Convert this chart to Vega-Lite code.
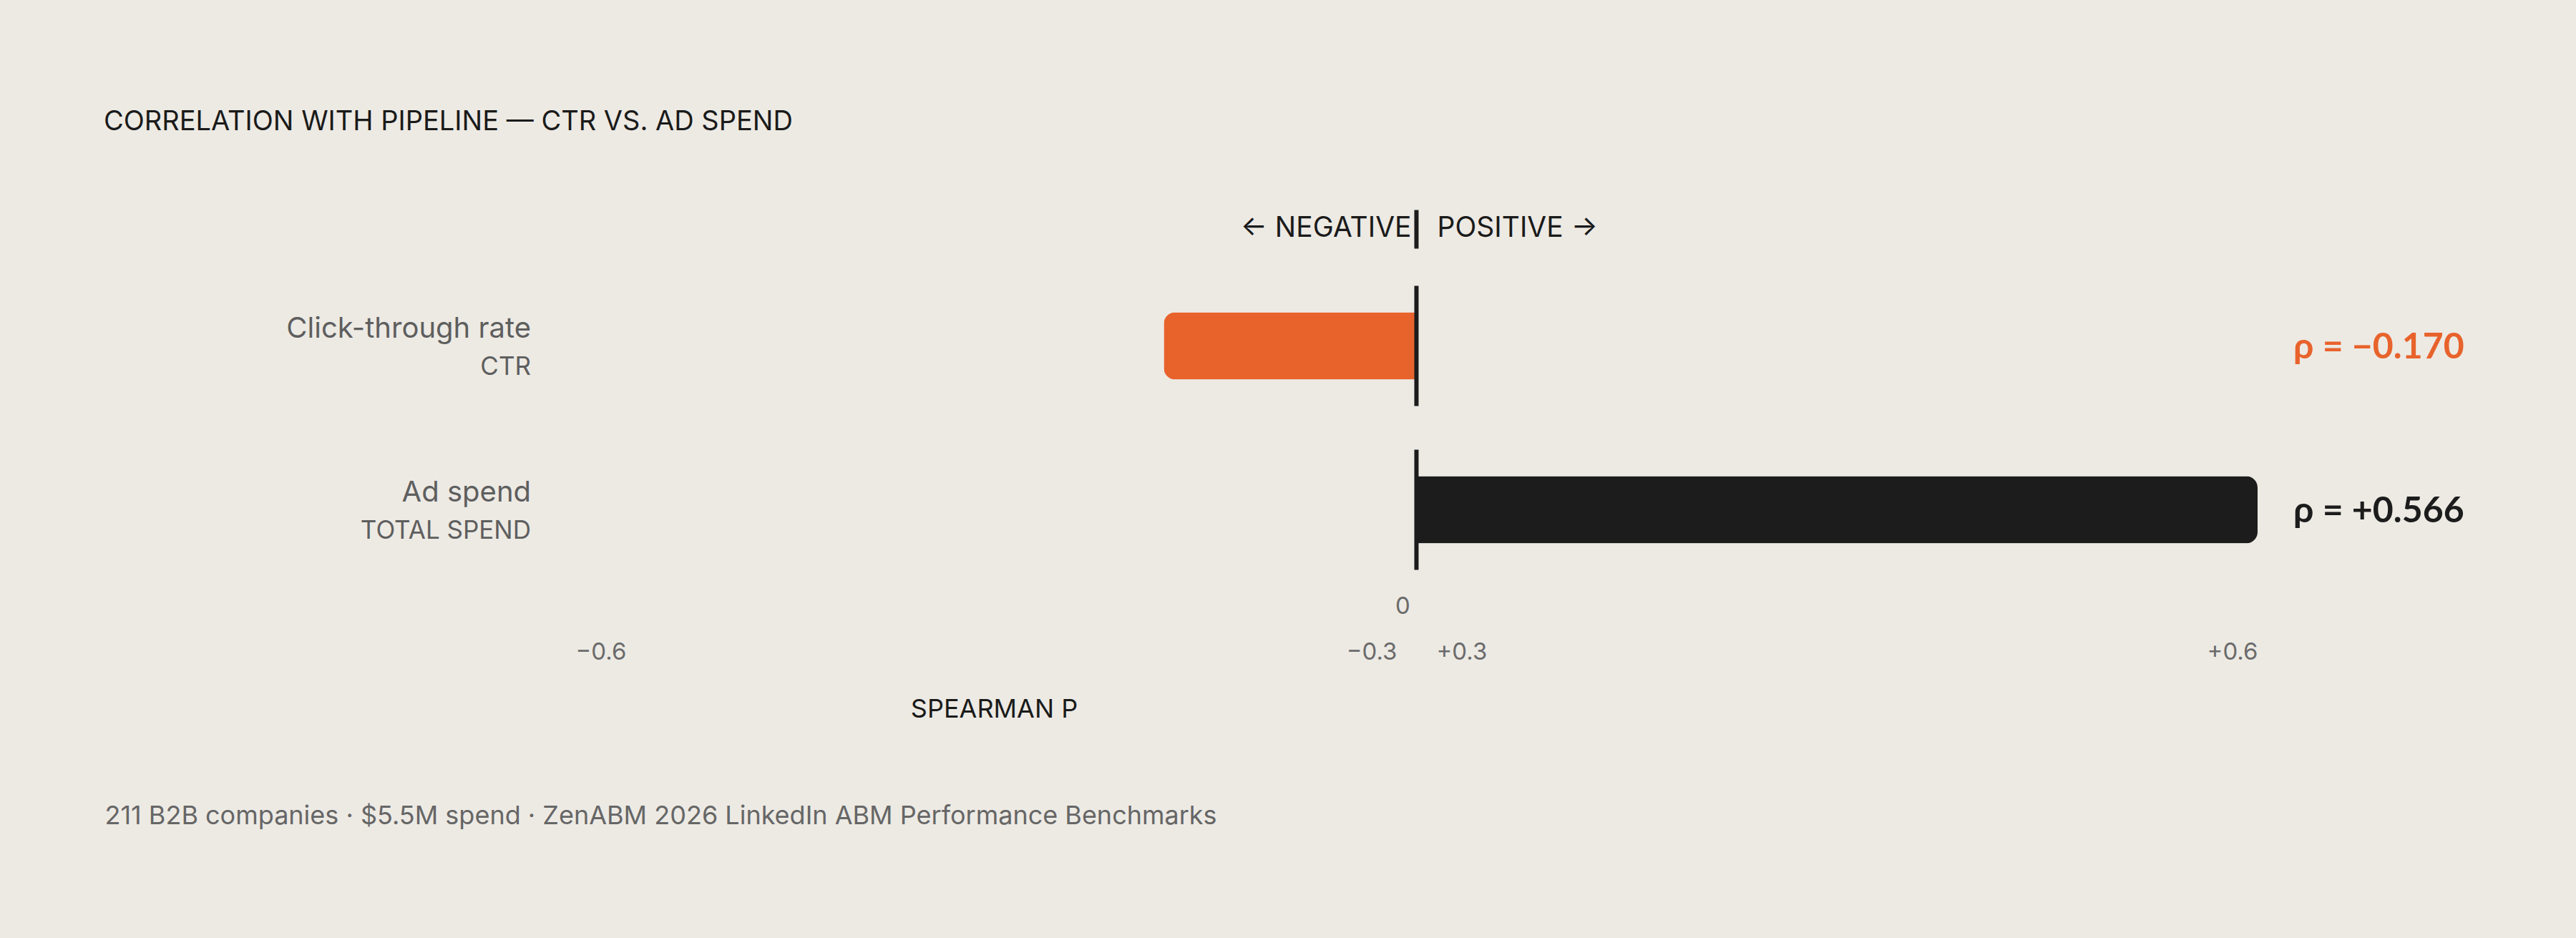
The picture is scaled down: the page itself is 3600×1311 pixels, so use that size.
{
  "$schema": "https://vega.github.io/schema/vega-lite/v6.json",
  "description": "Spearman correlation with pipeline: CTR vs. ad spend.",
  "width": 2351,
  "height": 458,
  "autosize": {"type": "none"},
  "padding": {"left": 804, "top": 369, "right": 445, "bottom": 484},
  "background": "#EDEAE4",
  "title": {
    "text": "CORRELATION WITH PIPELINE — CTR VS. AD SPEND",
    "anchor": "start",
    "frame": "group",
    "dx": -659,
    "offset": 74,
    "baseline": "alphabetic",
    "fontSize": 38,
    "fontWeight": "normal",
    "color": "#1A1A1A"
  },
  "datasets": {
    "rows": [
      {"metric": "Click-through rate", "code": "CTR", "rho": -0.170, "label": "ρ = −0.170"},
      {"metric": "Ad spend", "code": "TOTAL SPEND", "rho": 0.566, "label": "ρ = +0.566"}
    ],
    "header": [
      {"dir": "neg", "text": "← NEGATIVE"},
      {"dir": "pos", "text": "POSITIVE →"}
    ],
    "ticks": [
      {"label": "0", "side": "zero"},
      {"label": "−0.3", "side": "neg"},
      {"label": "+0.3", "side": "pos"}
    ]
  },
  "data": {"name": "rows"},
  "layer": [
    {
      "transform": [{"filter": "datum.rho < 0"}],
      "mark": {
        "type": "bar",
        "height": {"band": 0.41},
        "color": "#E8632C",
        "cornerRadiusTopLeft": 16,
        "cornerRadiusBottomLeft": 16
      },
      "encoding": {
        "x": {
          "field": "rho",
          "type": "quantitative",
          "scale": {"domain": [-0.566, 0.566], "nice": false, "zero": false},
          "axis": {
            "values": [-0.566, 0.566],
            "labelExpr": "datum.value < 0 ? '−0.6' : '+0.6'",
            "labelFlush": true,
            "labelOverlap": false,
            "domain": false,
            "ticks": false,
            "tickSize": 0,
            "grid": false,
            "labelPadding": 94,
            "labelBaseline": "alphabetic",
            "labelFontSize": 33,
            "labelColor": "#6B6B6B",
            "title": "SPEARMAN P",
            "titleX": 585,
            "titleY": 175,
            "titleAlign": "center",
            "titleBaseline": "alphabetic",
            "titleFontSize": 36,
            "titleFontWeight": "normal",
            "titleColor": "#1A1A1A"
          }
        },
        "y": {
          "field": "metric",
          "type": "nominal",
          "scale": {"domain": ["Click-through rate", "Ad spend"], "paddingInner": 0, "paddingOuter": 0},
          "axis": {
            "labels": false,
            "ticks": false,
            "domain": false,
            "grid": false,
            "title": "211 B2B companies · $5.5M spend · ZenABM 2026 LinkedIn ABM Performance Benchmarks",
            "titleAngle": 0,
            "titleX": -658,
            "titleY": 782,
            "titleAlign": "left",
            "titleBaseline": "alphabetic",
            "titleFontSize": 36,
            "titleFontWeight": "normal",
            "titleColor": "#666666"
          }
        }
      }
    },
    {
      "transform": [{"filter": "datum.rho >= 0"}],
      "mark": {
        "type": "bar",
        "height": {"band": 0.41},
        "color": "#1C1C1C",
        "cornerRadiusTopRight": 16,
        "cornerRadiusBottomRight": 16
      },
      "encoding": {
        "x": {"field": "rho", "type": "quantitative"},
        "y": {"field": "metric", "type": "nominal"}
      }
    },
    {
      "mark": {"type": "tick", "size": 168, "thickness": 6, "color": "#1C1C1C", "opacity": 1},
      "encoding": {
        "x": {"datum": 0, "type": "quantitative"},
        "y": {"field": "metric", "type": "nominal"}
      }
    },
    {
      "data": {"name": "header"},
      "transform": [{"filter": "datum.dir == 'neg'"}],
      "mark": {"type": "tick", "size": 54, "thickness": 6, "color": "#1C1C1C", "opacity": 1, "yOffset": -163},
      "encoding": {
        "x": {"datum": 0, "type": "quantitative"},
        "y": {"datum": "Click-through rate", "type": "nominal"}
      }
    },
    {
      "data": {"name": "header"},
      "transform": [{"filter": "datum.dir == 'neg'"}],
      "mark": {"type": "text", "align": "right", "baseline": "alphabetic", "dx": -7, "dy": -153, "fontSize": 39, "color": "#1A1A1A"},
      "encoding": {
        "x": {"datum": 0, "type": "quantitative"},
        "y": {"datum": "Click-through rate", "type": "nominal"},
        "text": {"field": "text"}
      }
    },
    {
      "data": {"name": "header"},
      "transform": [{"filter": "datum.dir == 'pos'"}],
      "mark": {"type": "text", "align": "left", "baseline": "alphabetic", "dx": 29, "dy": -153, "fontSize": 39, "color": "#1A1A1A"},
      "encoding": {
        "x": {"datum": 0, "type": "quantitative"},
        "y": {"datum": "Click-through rate", "type": "nominal"},
        "text": {"field": "text"}
      }
    },
    {
      "mark": {"type": "text", "align": "right", "baseline": "alphabetic", "dx": -62, "dy": -12, "fontSize": 40, "color": "#5E5E5E"},
      "encoding": {
        "x": {"datum": -0.566, "type": "quantitative"},
        "y": {"field": "metric", "type": "nominal"},
        "text": {"field": "metric"}
      }
    },
    {
      "mark": {"type": "text", "align": "right", "baseline": "alphabetic", "dx": -62, "dy": 40, "fontSize": 35, "color": "#5E5E5E"},
      "encoding": {
        "x": {"datum": -0.566, "type": "quantitative"},
        "y": {"field": "metric", "type": "nominal"},
        "text": {"field": "code"}
      }
    },
    {
      "mark": {"type": "text", "align": "left", "baseline": "alphabetic", "dx": 50, "dy": 17, "fontSize": 50, "font": "Lato", "fontWeight": "bold"},
      "encoding": {
        "x": {"datum": 0.566, "type": "quantitative"},
        "y": {"field": "metric", "type": "nominal"},
        "text": {"field": "label"},
        "color": {"condition": {"test": "datum.rho < 0", "value": "#E8632C"}, "value": "#1C1C1C"}
      }
    },
    {
      "data": {"name": "ticks"},
      "transform": [{"filter": "datum.side == 'zero'"}],
      "mark": {"type": "text", "align": "center", "baseline": "alphabetic", "dx": -19, "dy": 145, "fontSize": 33, "color": "#6B6B6B"},
      "encoding": {
        "x": {"datum": 0, "type": "quantitative"},
        "y": {"datum": "Ad spend", "type": "nominal"},
        "text": {"field": "label"}
      }
    },
    {
      "data": {"name": "ticks"},
      "transform": [{"filter": "datum.side == 'neg'"}],
      "mark": {"type": "text", "align": "right", "baseline": "alphabetic", "dx": -27, "dy": 209, "fontSize": 33, "color": "#6B6B6B"},
      "encoding": {
        "x": {"datum": 0, "type": "quantitative"},
        "y": {"datum": "Ad spend", "type": "nominal"},
        "text": {"field": "label"}
      }
    },
    {
      "data": {"name": "ticks"},
      "transform": [{"filter": "datum.side == 'pos'"}],
      "mark": {"type": "text", "align": "left", "baseline": "alphabetic", "dx": 28, "dy": 209, "fontSize": 33, "color": "#6B6B6B"},
      "encoding": {
        "x": {"datum": 0, "type": "quantitative"},
        "y": {"datum": "Ad spend", "type": "nominal"},
        "text": {"field": "label"}
      }
    }
  ],
  "config": {
    "font": "Inter",
    "view": {"stroke": null}
  }
}
